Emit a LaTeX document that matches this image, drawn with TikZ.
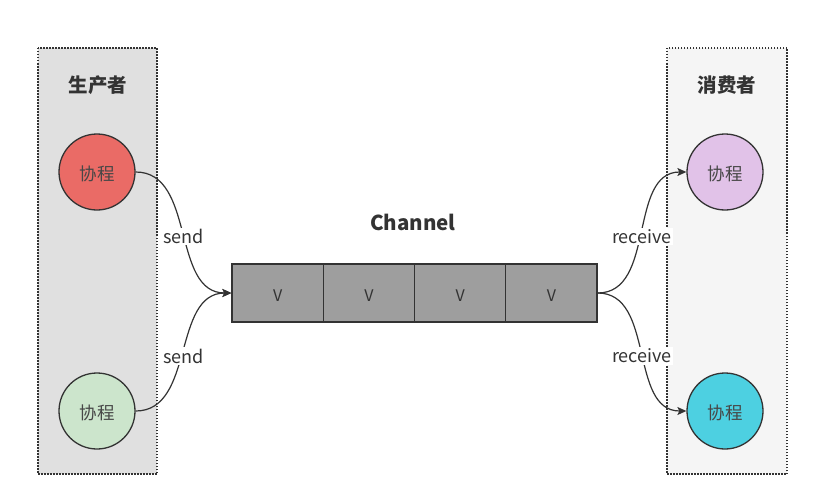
\documentclass[tikz,border=0pt]{standalone}
\usepackage{fontspec}
\setmainfont{Noto Sans CJK SC}
\usetikzlibrary{arrows.meta}
\definecolor{edgegray}{HTML}{333333}
\definecolor{prodfill}{HTML}{E0E0E0}
\definecolor{consfill}{HTML}{F5F5F5}
\definecolor{cellfill}{HTML}{9E9E9E}
\definecolor{corored}{HTML}{EA6B66}
\definecolor{corogreen}{HTML}{CCE5CC}
\definecolor{coropink}{HTML}{E1C2E8}
\definecolor{corocyan}{HTML}{4DD0E1}
\tikzset{
  panel/.style={draw=edgegray, line width=1.1pt, dash pattern=on 1.5pt off 1.5pt},
  panelhead/.style={font=\bfseries\fontsize{19.5}{22}\selectfont, text=edgegray},
  coro/.style={circle, draw=edgegray, line width=1.3pt, minimum size=76pt, inner sep=0pt},
  cotext/.style={font=\fontsize{17.5}{20}\selectfont, text=edgegray!90, inner sep=0pt},
  cell/.style={draw=edgegray, line width=1.3pt, fill=cellfill, minimum width=91.25pt,
    minimum height=58pt, inner sep=0pt},
  celltext/.style={font=\fontsize{16}{18}\selectfont, text=edgegray, inner sep=0pt},
  flow/.style={draw=edgegray, line width=1.2pt, -{Stealth[length=9pt,width=8pt,inset=2pt]}},
  flowlabel/.style={fill=white, inner sep=1.5pt, yshift=-4pt,
    font=\fontsize{18}{20}\selectfont, text=edgegray}
}
\begin{document}
\begin{tikzpicture}[x=1pt, y=-1pt]
  \useasboundingbox[fill=white] (0,0) rectangle (824,503);
  % producer and consumer panels
  \draw[panel, fill=prodfill] (38,48) rectangle (157,474);
  \draw[panel, fill=consfill] (667,48) rectangle (787,474);
  \node[panelhead] (ptitle) at (98,85) {生产者};
  \node[panelhead] (ctitle) at (727,85) {消费者};
  % coroutines
  \node[coro, fill=corored]   (p1) at (97,172) {};
  \node[coro, fill=corogreen] (p2) at (97,411) {};
  \node[coro, fill=coropink]  (c1) at (725,172) {};
  \node[coro, fill=corocyan]  (c2) at (725,411) {};
  \node[cotext] (p1t) at ([yshift=-2pt]p1.center) {协程};
  \node[cotext] (p2t) at ([yshift=-2pt]p2.center) {协程};
  \node[cotext] (c1t) at ([yshift=-2pt]c1.center) {协程};
  \node[cotext] (c2t) at ([yshift=-2pt]c2.center) {协程};
  % channel buffer
  \node[cell] (v1) at (277.6,293) {};
  \node[cell] (v2) at (368.9,293) {};
  \node[cell] (v3) at (460.1,293) {};
  \node[cell] (v4) at (551.4,293) {};
  \foreach \c in {v1,v2,v3,v4}
    \node[celltext] (\c t) at ([yshift=-2.5pt]\c.center) {V};
  \node[font=\bfseries\fontsize{20.5}{23}\selectfont, text=edgegray] (chtitle) at (413,222) {Channel};
  % send / receive connectors
  \draw[flow] (p1.east) to[out=0,in=180] node[flowlabel] {send} (v1.west);
  \draw[flow] (p2.east) to[out=0,in=180] node[flowlabel] {send} (v1.west);
  \draw[flow] (v4.east) to[out=0,in=180] node[flowlabel] {receive} (c1.west);
  \draw[flow] (v4.east) to[out=0,in=180] node[flowlabel] {receive} (c2.west);
\end{tikzpicture}
\end{document}
